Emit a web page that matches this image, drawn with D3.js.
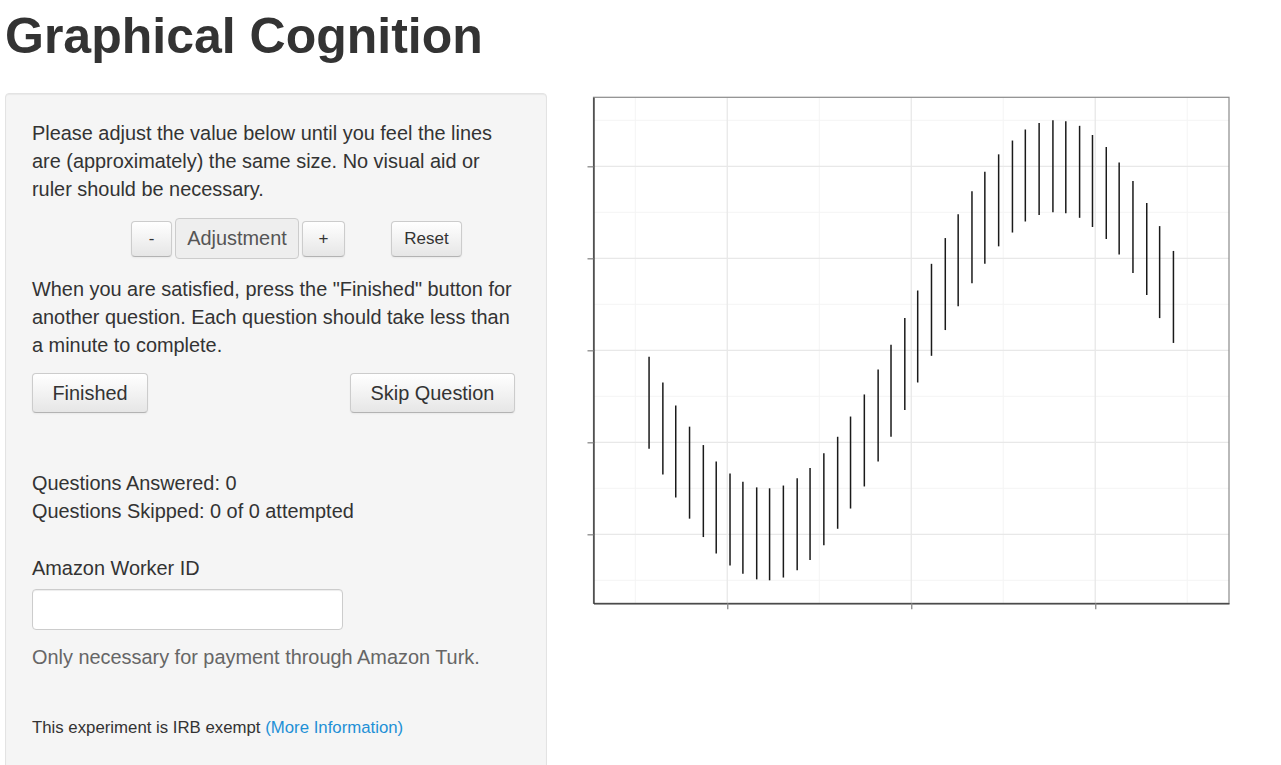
<!DOCTYPE html>
<html>
<head>
<meta charset="utf-8">
<title>Graphical Cognition</title>
<script src="https://d3js.org/d3.v7.min.js"></script>
<style>
body { margin:0; width:1281px; height:765px; overflow:hidden; position:relative;
  font-family:"Liberation Sans", Arial, sans-serif; color:#333; background:#fff; }
h1 { position:absolute; left:5px; top:6px; margin:0; font-size:50px; line-height:60px; font-weight:bold; }
.well { position:absolute; left:5px; top:93px; width:542px; height:720px; box-sizing:border-box;
  background:#f5f5f5; border:1px solid #e3e3e3; border-radius:4px;
  box-shadow: inset 0 1px 1px rgba(0,0,0,.05); }
.t { position:absolute; left:32px; font-size:19.9px; line-height:28px; white-space:nowrap; }
.btn { position:absolute; box-sizing:border-box; border:1px solid #ccc; border-bottom-color:#b3b3b3;
  border-radius:4px; background:linear-gradient(#ffffff,#e6e6e6); color:#333; text-align:center;
  box-shadow: inset 0 1px 0 rgba(255,255,255,.2), 0 1px 2px rgba(0,0,0,.05); white-space:nowrap; }
.addon { position:absolute; box-sizing:border-box; border:1px solid #ccc; border-radius:4px;
  background:#eeeeee; color:#555; text-align:center; font-size:19.9px; }
.input { position:absolute; box-sizing:border-box; border:1px solid #ccc; border-radius:4px; background:#fff;
  box-shadow: inset 0 1px 1px rgba(0,0,0,.075); }
#chart { position:absolute; left:570px; top:80px; }
a { color:#1e90d6; text-decoration:none; }
</style>
</head>
<body>
<h1>Graphical Cognition</h1>
<div class="well"></div>

<div class="t" style="top:119px">Please adjust the value below until you feel the lines<br>are (approximately) the same size. No visual aid or<br>ruler should be necessary.</div>

<div class="btn" style="left:131px;top:221px;width:41px;height:36px;line-height:34px;font-size:17px">-</div>
<div class="addon" style="left:175px;top:218px;width:124px;height:41px;line-height:39px">Adjustment</div>
<div class="btn" style="left:302px;top:221px;width:43px;height:36px;line-height:34px;font-size:17px">+</div>
<div class="btn" style="left:391px;top:221px;width:71px;height:36px;line-height:34px;font-size:17px">Reset</div>

<div class="t" style="top:275px">When you are satisfied, press the "Finished" button for<br>another question. Each question should take less than<br>a minute to complete.</div>

<div class="btn" style="left:32px;top:373px;width:116px;height:40px;line-height:38px;font-size:19.9px">Finished</div>
<div class="btn" style="left:350px;top:373px;width:165px;height:40px;line-height:38px;font-size:19.9px">Skip Question</div>

<div class="t" style="top:469px">Questions Answered: 0<br>Questions Skipped: 0 of 0 attempted</div>
<div class="t" style="top:554px">Amazon Worker ID</div>
<div class="input" style="left:32px;top:589px;width:311px;height:41px"></div>
<div class="t" style="top:643px;color:#666">Only necessary for payment through Amazon Turk.</div>
<div class="t" style="top:714px;font-size:16.8px">This experiment is IRB exempt <a href="#">(More Information)</a></div>

<div id="chart"></div>

<script>
// axis limits of the plotted data (before the 5% padding)
var xLimits = [-3.14, 3.14];
var yLimits = [-2.5, 2.5];

// tick positions (labels are blank in the app)
var xTicks = [-2, 0, 2];
var yTicks = [-2, -1, 0, 1, 2];
var xMinor = [-3, -1, 1, 3];
var yMinor = [-2.5, -1.5, -0.5, 0.5, 1.5, 2.5];

// segment positions and their vertical centres
var segX = [-2.85, -2.70, -2.56, -2.41, -2.26, -2.12, -1.97, -1.83, -1.68, -1.54,
            -1.39, -1.24, -1.10, -0.95, -0.80, -0.66, -0.51, -0.36, -0.22, -0.07,
             0.07,  0.22,  0.37,  0.51,  0.66,  0.80,  0.95,  1.10,  1.24,  1.39,
             1.54,  1.68,  1.83,  1.97,  2.12,  2.26,  2.41,  2.56,  2.70,  2.85];
var segMid = [-0.57, -0.85, -1.10, -1.33, -1.53, -1.71, -1.84, -1.93, -1.99, -2.00,
              -1.97, -1.89, -1.78, -1.62, -1.44, -1.22, -0.98, -0.71, -0.44, -0.15,
               0.15,  0.44,  0.72,  0.98,  1.23,  1.44,  1.63,  1.78,  1.90,  1.97,
               2.00,  1.99,  1.94,  1.84,  1.71,  1.54,  1.34,  1.10,  0.85,  0.58];
var segLength = 1;

//Chart dimensions
var margin = {top: 17.3, right: 20, bottom: 30, left: 23.5};
var w = 635.5;
var h = 506;

function expand(lim) {
    var d = (lim[1] - lim[0]) * 0.05;
    return [lim[0] - d, lim[1] + d];
}

var x = d3.scaleLinear().domain(expand(xLimits)).range([0, w]);
var y = d3.scaleLinear().domain(expand(yLimits)).range([h, 0]);

var svg = d3.select("#chart").append("svg")
    .attr("width", w + margin.left + margin.right)
    .attr("height", h + margin.top + margin.bottom)
  .append("g")
    .attr("transform", "translate(" + margin.left + "," + margin.top + ")");

svg.append("rect").attr("width", w).attr("height", h).attr("fill", "#fff");

// minor grid
svg.selectAll(".xminor").data(xMinor).enter().append("line")
    .attr("x1", x).attr("x2", x).attr("y1", 0).attr("y2", h)
    .attr("stroke", "#f4f4f4").attr("stroke-width", 1);
svg.selectAll(".yminor").data(yMinor).enter().append("line")
    .attr("x1", 0).attr("x2", w).attr("y1", y).attr("y2", y)
    .attr("stroke", "#f4f4f4").attr("stroke-width", 1);

// major grid
svg.selectAll(".xmajor").data(xTicks).enter().append("line")
    .attr("x1", x).attr("x2", x).attr("y1", 0).attr("y2", h)
    .attr("stroke", "#e8e8e8").attr("stroke-width", 1.3);
svg.selectAll(".ymajor").data(yTicks).enter().append("line")
    .attr("x1", 0).attr("x2", w).attr("y1", y).attr("y2", y)
    .attr("stroke", "#e8e8e8").attr("stroke-width", 1.3);

// the segments
svg.selectAll(".seg").data(segX).enter().append("line")
    .attr("class", "seg")
    .attr("x1", function(d) { return x(d); })
    .attr("x2", function(d) { return x(d); })
    .attr("y1", function(d, i) { return y(segMid[i] + segLength / 2); })
    .attr("y2", function(d, i) { return y(segMid[i] - segLength / 2); })
    .attr("stroke", "#1a1a1a")
    .attr("stroke-width", 1.5);

// panel border (top / right)
svg.append("rect").attr("width", w).attr("height", h)
    .attr("fill", "none").attr("stroke", "#8a8a8a").attr("stroke-width", 1.2);

// axes with blank labels
var yAxis = svg.append("g")
    .call(d3.axisLeft(y).tickValues(yTicks).tickSize(6).tickSizeOuter(0).tickFormat(""));
var xAxis = svg.append("g").attr("transform", "translate(0," + h + ")")
    .call(d3.axisBottom(x).tickValues(xTicks).tickSize(6).tickSizeOuter(0).tickFormat(""));

[xAxis, yAxis].forEach(function(a) {
    a.select(".domain").attr("stroke", "#333").attr("stroke-width", 1.3);
    a.selectAll(".tick line").attr("stroke", "#8a8a8a").attr("stroke-width", 1.3);
});
</script>
</body>
</html>
